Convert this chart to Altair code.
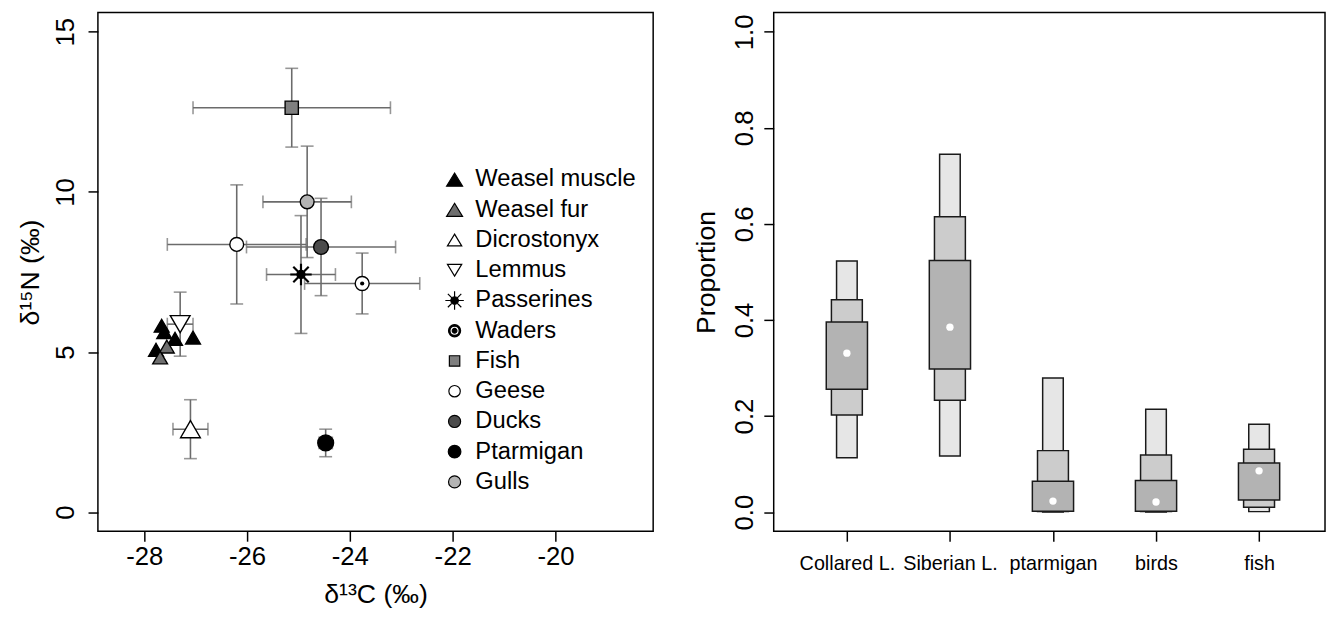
import altair as alt
import pandas as pd

# ---------------- Left panel data (delta13C, delta15N) ----------------
weasel_muscle_c = [-27.66, -27.61, -27.40, -27.05, -27.77]
weasel_muscle_n = [5.82, 5.62, 5.41, 5.45, 5.07]
weasel_fur_c = [-27.56, -27.69]
weasel_fur_n = [5.17, 4.83]

prey = ["Dicrostonyx", "Lemmus", "Passerines", "Waders", "Fish",
        "Geese", "Ducks", "Ptarmigan", "Gulls"]
prey_c = [-27.10, -27.30, -24.95, -23.76, -25.13, -26.20, -24.56, -24.47, -24.83]
prey_c_sd = [0.34, 0.25, 0.67, 1.12, 1.92, 1.35, 1.45, 0.13, 0.86]
prey_n = [2.59, 5.87, 7.42, 7.14, 12.63, 8.36, 8.28, 2.16, 9.69]
prey_n_sd = [0.92, 1.00, 1.84, 0.95, 1.23, 1.86, 1.52, 0.43, 1.74]

legend_order = ["Weasel muscle", "Weasel fur", "Dicrostonyx", "Lemmus", "Passerines",
                "Waders", "Fish", "Geese", "Ducks", "Ptarmigan", "Gulls"]

x_ticks_left = [-28, -26, -24, -22, -20]
y_ticks_left = [0, 5, 10, 15]

# ---------------- Right panel data (diet proportions) ----------------
diet = ["Collared L.", "Siberian L.", "ptarmigan", "birds", "fish"]
diet_pos = [1, 2, 3, 4, 5]
median = [0.331, 0.385, 0.023, 0.021, 0.086]
lo95 = [0.113, 0.117, 0.000, 0.000, 0.001]
hi95 = [0.523, 0.745, 0.279, 0.214, 0.183]
lo75 = [0.202, 0.233, 0.001, 0.001, 0.010]
hi75 = [0.442, 0.615, 0.128, 0.119, 0.131]
lo50 = [0.256, 0.298, 0.002, 0.002, 0.025]
hi50 = [0.396, 0.524, 0.064, 0.066, 0.102]
y_ticks_right = [0.0, 0.2, 0.4, 0.6, 0.8, 1.0]

# ---------------- styling ----------------
FONT = "Liberation Sans, Arial, sans-serif"
ERR = "#6b6b6b"

src = pd.DataFrame({"group": prey, "c": prey_c, "c_sd": prey_c_sd,
                    "n": prey_n, "n_sd": prey_n_sd})
weasel = pd.DataFrame({
    "group": ["Weasel muscle"] * len(weasel_muscle_c) + ["Weasel fur"] * len(weasel_fur_c),
    "c": weasel_muscle_c + weasel_fur_c,
    "n": weasel_muscle_n + weasel_fur_n,
})
pts = pd.concat([weasel, src[["group", "c", "n"]]], ignore_index=True)

xs = alt.Scale(domain=[-28.9, -18.1], nice=False, zero=False)
ys = alt.Scale(domain=[-0.6, 15.6], nice=False, zero=False)
x_axis_l = alt.Axis(values=x_ticks_left, title="δ¹³C (‰)", labelFlush=False,
                    labelExpr="(datum.value < 0 ? '-' : '') + abs(datum.value)",
                    labelPadding=3, titlePadding=12)
y_axis_l = alt.Axis(values=y_ticks_left, title="δ¹⁵N (‰)", labelAngle=270,
                    labelAlign="center", labelBaseline="bottom",
                    labelPadding=10, titlePadding=8)


def X(field):
    return alt.X(field, type="quantitative", scale=xs, axis=x_axis_l)


def Y(field):
    return alt.Y(field, type="quantitative", scale=ys, axis=y_axis_l)


base = alt.Chart(src).transform_calculate(
    c_lo="datum.c - datum.c_sd", c_hi="datum.c + datum.c_sd",
    n_lo="datum.n - datum.n_sd", n_hi="datum.n + datum.n_sd")

vbar = base.mark_rule(color=ERR, strokeWidth=1.6).encode(x=X("c"), y=Y("n_lo"), y2="n_hi:Q")
hbar = base.mark_rule(color=ERR, strokeWidth=1.6).encode(x=X("c_lo"), x2="c_hi:Q", y=Y("n"))
cap_v1 = base.mark_tick(orient="horizontal", size=13, thickness=1.6, color=ERR).encode(x=X("c"), y=Y("n_lo"))
cap_v2 = base.mark_tick(orient="horizontal", size=13, thickness=1.6, color=ERR).encode(x=X("c"), y=Y("n_hi"))
cap_h1 = base.mark_tick(orient="vertical", size=13, thickness=1.6, color=ERR).encode(x=X("c_lo"), y=Y("n"))
cap_h2 = base.mark_tick(orient="vertical", size=13, thickness=1.6, color=ERR).encode(x=X("c_hi"), y=Y("n"))

STAR = "M-1,0L1,0M0,-1L0,1M-0.72,-0.72L0.72,0.72M-0.72,0.72L0.72,-0.72"

styles = {
    "Weasel muscle": dict(shape="triangle-up", fill="#000000", size=225),
    "Weasel fur": dict(shape="triangle-up", fill="#6e6e6e", size=225),
    "Dicrostonyx": dict(shape="triangle-up", fill="#ffffff", size=400),
    "Lemmus": dict(shape="triangle-down", fill="#ffffff", size=400),
    "Waders": dict(shape="circle", fill="#ffffff", size=200),
    "Fish": dict(shape="square", fill="#7f7f7f", size=180),
    "Geese": dict(shape="circle", fill="#ffffff", size=196),
    "Ducks": dict(shape="circle", fill="#4c4c4c", size=225),
    "Ptarmigan": dict(shape="circle", fill="#000000", size=256),
    "Gulls": dict(shape="circle", fill="#b4b4b4", size=196),
}

point_layers = []
for g in ["Weasel muscle", "Weasel fur", "Lemmus", "Dicrostonyx", "Fish", "Geese",
          "Ducks", "Ptarmigan", "Gulls", "Waders"]:
    st = styles[g]
    point_layers.append(
        alt.Chart(pts).transform_filter(alt.datum.group == g).mark_point(
            shape=st["shape"], fill=st["fill"], filled=True, stroke="#000000",
            strokeWidth=1.4, size=st["size"], opacity=1
        ).encode(x=X("c"), y=Y("n")))

waders_dot = alt.Chart(pts).transform_filter(alt.datum.group == "Waders").mark_circle(
    color="#000000", size=18, opacity=1).encode(x=X("c"), y=Y("n"))
star = alt.Chart(pts).transform_filter(alt.datum.group == "Passerines").mark_point(
    shape=STAR, stroke="#000000", strokeWidth=2.2, size=470, filled=False, opacity=1
).encode(x=X("c"), y=Y("n"))
star_dot = alt.Chart(pts).transform_filter(alt.datum.group == "Passerines").mark_circle(
    color="#000000", size=90, opacity=1).encode(x=X("c"), y=Y("n"))


def circ(r):
    return f"M{r},0A{r},{r},0,1,1,-{r},0A{r},{r},0,1,1,{r},0Z"


def hole(r):
    return f"M{r},0A{r},{r},0,1,0,-{r},0A{r},{r},0,1,0,{r},0Z"


leg_shapes = [
    "M0,-0.78L0.95,0.78L-0.95,0.78Z",
    "M0,-0.78L0.95,0.78L-0.95,0.78Z",
    "M0,-0.7L0.85,0.7L-0.85,0.7Z",
    "M0,0.7L0.85,-0.7L-0.85,-0.7Z",
    "M-1.1,0L1.1,0M0,-1.1L0,1.1M-0.8,-0.8L0.8,0.8M-0.8,0.8L0.8,-0.8" + circ(0.45),
    circ(0.72) + hole(0.55) + circ(0.28),
    "M-0.62,-0.62L0.62,-0.62L0.62,0.62L-0.62,0.62Z",
    circ(0.68),
    circ(0.72),
    circ(0.75),
    circ(0.72),
]
leg_fills = ["#000000", "#6e6e6e", "#ffffff", "#ffffff", "#000000", "#000000",
             "#7f7f7f", "#ffffff", "#4c4c4c", "#000000", "#b4b4b4"]
leg_strokes = ["#000000"] * len(legend_order)

legend_df = pd.DataFrame({"Legend": legend_order})
legend_layer = alt.Chart(legend_df).mark_point(filled=True, opacity=0, strokeWidth=1.2).encode(
    shape=alt.Shape("Legend:N", sort=legend_order,
                    scale=alt.Scale(domain=legend_order, range=leg_shapes),
                    legend=alt.Legend(title=None, orient="none", legendX=349, legendY=157,
                                      labelFont=FONT, labelFontSize=24, labelColor="#000000",
                                      symbolSize=289, symbolStrokeWidth=1.2,
                                      symbolOpacity=1,
                                      rowPadding=6.6, labelOffset=9, padding=0,
                                      labelLimit=400)),
    fill=alt.Fill("Legend:N", sort=legend_order,
                  scale=alt.Scale(domain=legend_order, range=leg_fills), legend=None),
    stroke=alt.Stroke("Legend:N", sort=legend_order,
                      scale=alt.Scale(domain=legend_order, range=leg_strokes), legend=None),
)

left = alt.layer(
    vbar, hbar, cap_v1, cap_v2, cap_h1, cap_h2,
    *point_layers, waders_dot, star, star_dot, legend_layer
).properties(width=562, height=525)

# ---------------- Right panel ----------------
prop = pd.DataFrame({"diet": diet, "pos": diet_pos, "med": median,
                     "lo95": lo95, "hi95": hi95, "lo75": lo75, "hi75": hi75,
                     "lo50": lo50, "hi50": hi50})
xr = alt.Scale(domain=[0.29, 5.64], nice=False, zero=False)
yr = alt.Scale(domain=[-0.04, 1.04], nice=False, zero=False)
label_expr = "['Collared L.','Siberian L.','ptarmigan','birds','fish'][round(datum.value) - 1]"
x_axis_r = alt.Axis(values=diet_pos, labelExpr=label_expr, title=None, labelFlush=False,
                    labelOverlap=False, labelPadding=13, labelFontSize=20)
y_axis_r = alt.Axis(values=y_ticks_right, format=".1f", title="Proportion", labelAngle=270,
                    labelAlign="center", labelBaseline="bottom",
                    labelPadding=6, titlePadding=12)


def XR(field):
    return alt.X(field, type="quantitative", scale=xr, axis=x_axis_r)


def YR(field):
    return alt.Y(field, type="quantitative", scale=yr, axis=y_axis_r)


def box(lo, hi, half, color):
    return alt.Chart(prop).transform_calculate(
        xa=f"datum.pos - {half}", xb=f"datum.pos + {half}"
    ).mark_rect(fill=color, stroke="#1a1a1a", strokeWidth=1.5).encode(
        x=XR("xa"), x2="xb:Q", y=YR(lo), y2=f"{hi}:Q")


meds = alt.Chart(prop).mark_circle(color="#ffffff", size=55, opacity=1).encode(
    x=XR("pos"), y=YR("med"))

right = alt.layer(
    box("lo95", "hi95", 0.1, "#e6e6e6"),
    box("lo75", "hi75", 0.15, "#cccccc"),
    box("lo50", "hi50", 0.2, "#b3b3b3"),
    meds,
).properties(width=558, height=525)

chart = alt.hconcat(left, right, spacing=38).properties(
    padding={"left": 8, "top": 0, "right": 0, "bottom": 0},
    background="#ffffff"
).configure_view(
    stroke="#000000", strokeWidth=1.5
).configure_axis(
    grid=False, domain=False, tickColor="#000000", tickWidth=1.5, tickSize=10,
    labelFont=FONT, labelFontSize=26, labelColor="#000000",
    titleFont=FONT, titleFontSize=27, titleFontWeight="normal", titleColor="#000000"
)

chart.save("out.html", embed_options={"renderer": "svg", "actions": False})
